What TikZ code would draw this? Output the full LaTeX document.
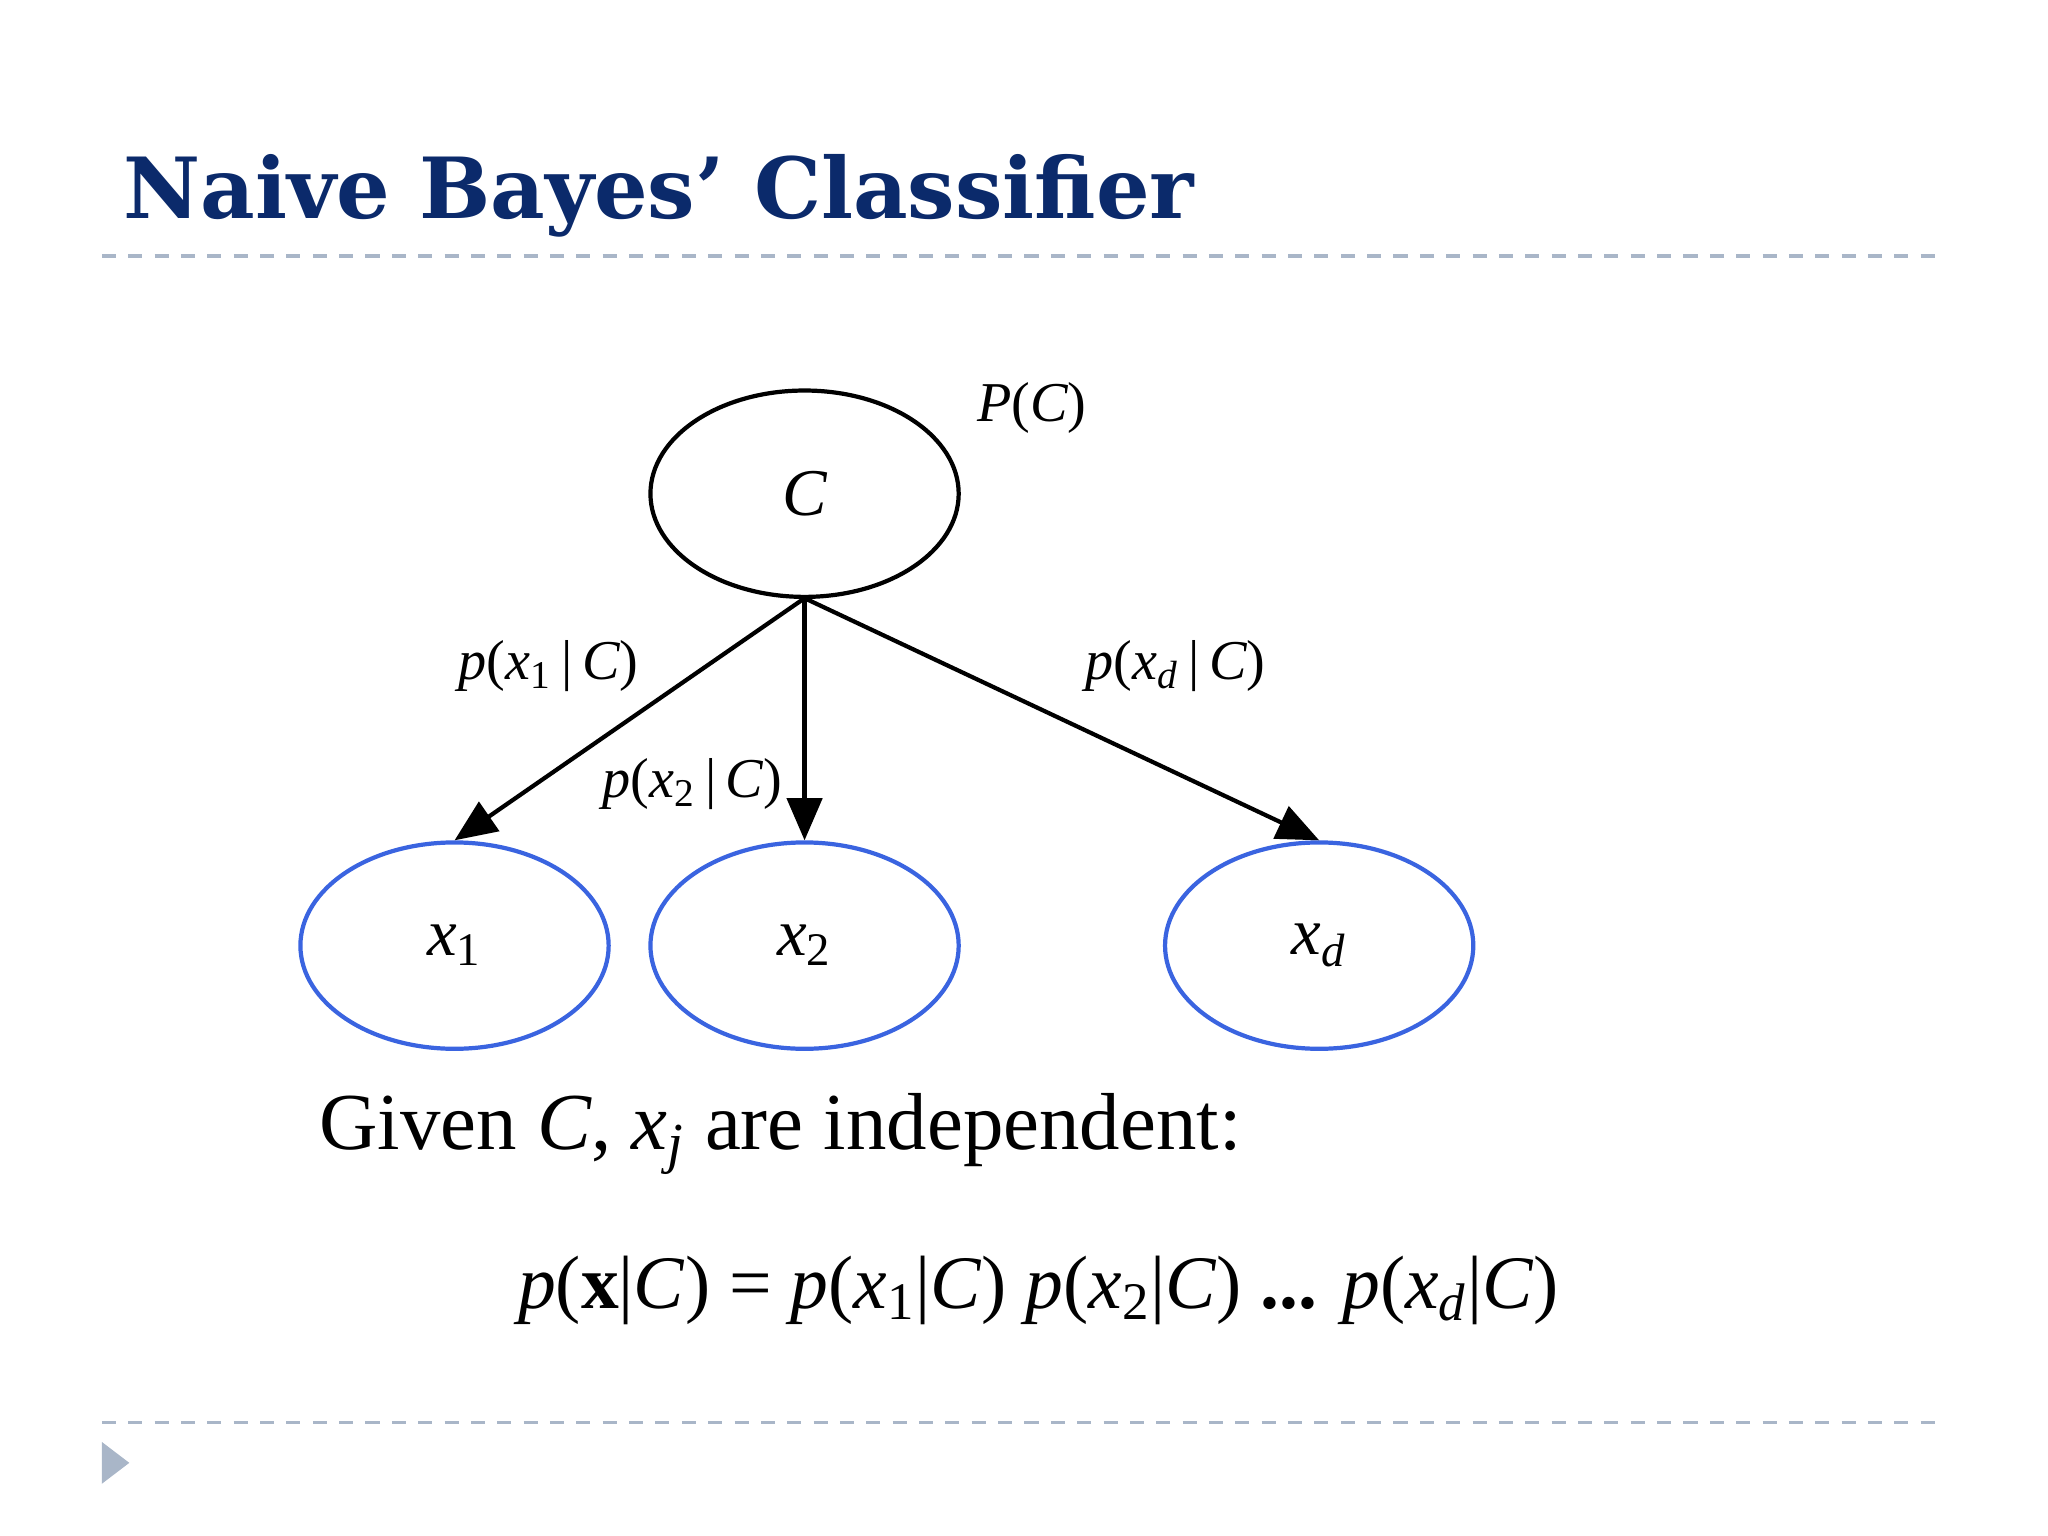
\documentclass[tikz,border=0pt]{standalone}
\usepackage{fontspec}
\setmainfont{Liberation Serif}
\newfontfamily\titlefont{DejaVu Serif}
\usetikzlibrary{arrows.meta,shapes.geometric}
\definecolor{titleblue}{HTML}{0B2A6B}
\definecolor{rulecol}{HTML}{A9B6C8}
\definecolor{nodeblue}{HTML}{3A64E0}
\tikzset{
  cnode/.style={draw=black, line width=1.2pt, ellipse, minimum width=236*0.013061cm, minimum height=158*0.013061cm, inner sep=0pt},
  xnode/.style={cnode, draw=nodeblue},
  edge/.style={draw=black, line width=1.2pt, -{Triangle[length=12pt,width=10pt]}},
  lab/.style={font=\fontsize{16}{19}\selectfont, anchor=center},
  rulel/.style={draw=rulecol, line width=1pt, dash pattern=on 4pt off 3.5pt}
}
\begin{document}
\begin{tikzpicture}[x=0.013061cm, y=-0.013061cm]
\useasboundingbox (0,0) rectangle (1568,1176);
\node[anchor=west, inner sep=0pt, text=titleblue, font=\titlefont\bfseries\fontsize{24}{28}\selectfont] (title) at (94,150) {Naive Bayes’ Classifier};
\draw[rulel] (78,196) -- (1490,196);
\draw[rulel] (78,1089) -- (1490,1089);
\fill[rulecol] (78,1104) -- (99,1120) -- (78,1136) -- cycle;
\node[cnode] (C) at (616,378) {\fontsize{19}{22}\selectfont\itshape C};
\node[xnode] (x1) at (348,724) {\fontsize{19}{22}\selectfont\itshape x\textsubscript{\upshape 1}};
\node[xnode] (x2) at (616,724) {\fontsize{19}{22}\selectfont\itshape x\textsubscript{\upshape 2}};
\node[xnode] (xd) at (1010,724) {\fontsize{19}{22}\selectfont\itshape x\textsubscript{d}};
\coordinate (top) at (616,458);
\draw[edge] (top) -- (x1.north);
\draw[edge] (top) -- (x2.north);
\draw[edge] (top) -- (xd.north);
\node[lab] (pc) at (790,312) {\itshape P\upshape(\itshape C\upshape)};
\node[lab] (p1) at (420,510) {\itshape p\upshape(\itshape x\textsubscript{\upshape 1}\upshape\,|\,\itshape C\upshape)};
\node[lab] (p2) at (530,600) {\itshape p\upshape(\itshape x\textsubscript{\upshape 2}\upshape\,|\,\itshape C\upshape)};
\node[lab] (pd) at (900,510) {\itshape p\upshape(\itshape x\textsubscript{d}\upshape\,|\,\itshape C\upshape)};
\node[anchor=base west, inner sep=0pt, font=\fontsize{23}{27}\selectfont] (given) at (244,880) {Given \textit{C}, \textit{x}\textsubscript{\textit{j}} are independent:};
\node[anchor=base, font=\fontsize{21.5}{25}\selectfont] (formula) at (795,1002) {\textit{p}(\textbf{x}|\textit{C}) = \textit{p}(\textit{x}\textsubscript{1}|\textit{C}) \textit{p}(\textit{x}\textsubscript{2}|\textit{C}) \textbf{...} \textit{p}(\textit{x}\textsubscript{\textit{d}}|\textit{C})};
\end{tikzpicture}
\end{document}
